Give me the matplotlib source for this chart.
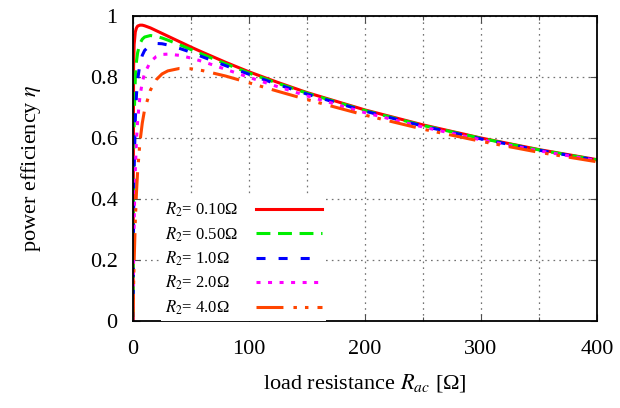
import matplotlib

matplotlib.use("Agg")
import matplotlib.pyplot as plt
from matplotlib.ticker import FixedLocator

plt.rcParams["font.family"] = ["Liberation Serif", "DejaVu Serif"]
plt.rcParams["mathtext.fontset"] = "stix"
plt.rcParams["lines.scale_dashes"] = False

# load resistance R_ac [ohm] sample points
r_ac = [0, 0.5, 1, 2, 3, 4, 6, 8, 10, 15, 20, 25, 30, 40, 50, 60, 80,
        100, 125, 150, 200, 250, 300, 350, 400]

# power efficiency, one list per R2
eta_r010 = [0, 0.832, 0.907, 0.948, 0.961, 0.967, 0.970, 0.970, 0.968, 0.961,
            0.952, 0.943, 0.934, 0.916, 0.898, 0.881, 0.848, 0.817, 0.782,
            0.749, 0.692, 0.643, 0.600, 0.562, 0.529]
eta_r050 = [0, 0.499, 0.664, 0.796, 0.851, 0.880, 0.910, 0.924, 0.931, 0.936,
            0.933, 0.928, 0.921, 0.906, 0.890, 0.874, 0.843, 0.813, 0.779,
            0.747, 0.690, 0.641, 0.599, 0.561, 0.528]
eta_r1 = [0, 0.332, 0.498, 0.662, 0.743, 0.791, 0.844, 0.871, 0.887, 0.905,
          0.910, 0.909, 0.905, 0.894, 0.881, 0.866, 0.837, 0.809, 0.775,
          0.744, 0.688, 0.639, 0.597, 0.560, 0.527]
eta_r2 = [0, 0.199, 0.331, 0.496, 0.593, 0.658, 0.737, 0.783, 0.812, 0.850,
          0.867, 0.874, 0.875, 0.871, 0.862, 0.851, 0.825, 0.799, 0.768,
          0.738, 0.683, 0.636, 0.594, 0.558, 0.526]
eta_r4 = [0, 0.110, 0.198, 0.329, 0.422, 0.491, 0.587, 0.649, 0.693, 0.757,
          0.791, 0.810, 0.820, 0.828, 0.827, 0.821, 0.803, 0.781, 0.753,
          0.726, 0.675, 0.629, 0.589, 0.553, 0.522]

labels = ["$R_2$= 0.10\u03a9", "$R_2$= 0.50\u03a9", "$R_2$= 1.0\u03a9",
          "$R_2$= 2.0\u03a9", "$R_2$= 4.0\u03a9"]
x_ticks = [0, 100, 200, 300, 400]
x_tick_labels = ["0", "100", "200", "300", "400"]
y_ticks = [0, 0.2, 0.4, 0.6, 0.8, 1.0]
y_tick_labels = ["0", "0.2", "0.4", "0.6", "0.8", "1"]

series = [eta_r010, eta_r050, eta_r1, eta_r2, eta_r4]
colors = ["#ff0000", "#00ee00", "#0000ff", "#ff00ff", "#ff4500"]
dashes = [None, (10, 5.5), (6.5, 9.4), (2.9, 5.4), (19.4, 7.2, 2.5, 5.8, 2.5, 6.5)]

fig = plt.figure(figsize=(6.2, 4.08), dpi=100)
ax = fig.add_axes([133 / 620, 87 / 408, 464 / 620, 305 / 408])

for y, c, d, lab in zip(series, colors, dashes, labels):
    line, = ax.plot(r_ac, y, color=c, lw=2.2, label=lab)
    if d is not None:
        line.set_dashes(d)

ax.set_xlim(0, 400)
ax.set_ylim(0, 1)
ax.xaxis.set_major_locator(FixedLocator(x_ticks))
ax.set_xticklabels(x_tick_labels)
ax.xaxis.set_minor_locator(FixedLocator([50, 150, 250, 350]))
ax.yaxis.set_major_locator(FixedLocator(y_ticks))
ax.set_yticklabels(y_tick_labels)
ax.tick_params(which="both", direction="in", top=True, right=True,
               labelsize=16, width=0.8, color="0.3")
ax.tick_params(axis="x", pad=14)
ax.tick_params(axis="y", pad=11)
ax.tick_params(which="major", length=5)
ax.tick_params(which="minor", length=3)

grid_kw = dict(color="0.45", lw=0.9, dashes=(1.2, 3))
ax.grid(True, which="major", axis="both", **grid_kw)
ax.grid(True, which="minor", axis="x", **grid_kw)
ax.set_axisbelow(True)
for s in ax.spines.values():
    s.set_linewidth(1.3)

ax.set_xlabel("load resistance $R_{ac}$ [\u03a9]", fontsize=16, labelpad=9)
ax.set_ylabel("power efficiency $\\eta$", fontsize=16, labelpad=34)

leg_fs = 12
leg = ax.legend(loc="lower left", bbox_to_anchor=(0.06, 0.0), fontsize=leg_fs,
                markerfirst=False, handlelength=4.0, labelspacing=0.36,
                frameon=True, fancybox=False, framealpha=1, edgecolor="none",
                borderpad=0.25, borderaxespad=0, handletextpad=1.05)

# left-align the labels while keeping the line samples in one column
fig.canvas.draw()
renderer = fig.canvas.get_renderer()
widths = [t.get_window_extent(renderer).width * 72 / fig.dpi for t in leg.get_texts()]
wmax = max(widths)
items = []
for col in leg._legend_handle_box.get_children():
    col.align = "left"
    items.extend(col.get_children())
for item, w in zip(items, widths):
    item.sep = 1.05 * leg_fs + (wmax - w)

fig.savefig("out.png", dpi=100)
